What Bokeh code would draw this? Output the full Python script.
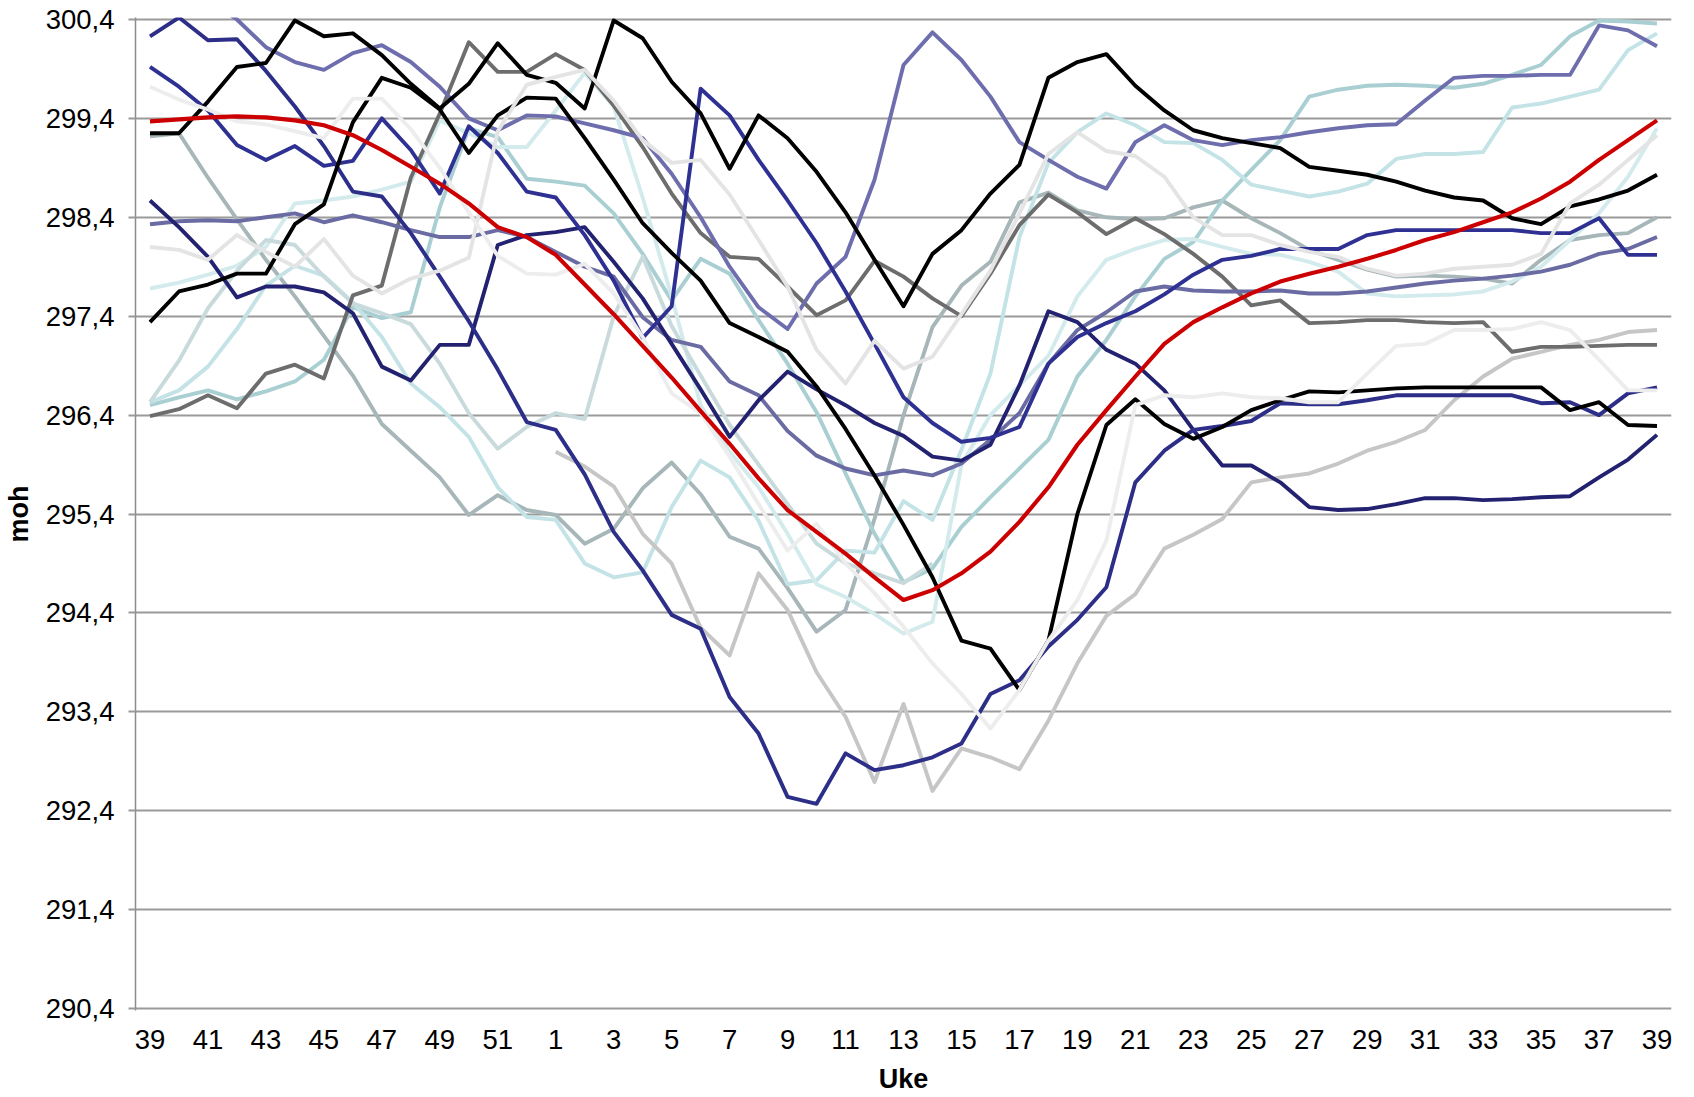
import numpy as np
from bokeh.plotting import figure
from bokeh.models import Range1d, FixedTicker
from bokeh.embed import file_html
from bokeh.resources import INLINE

nan = float("nan")

# x categories (week numbers, Sept -> Sept)
weeks = list(range(39, 53)) + list(range(1, 40))
ytick_values = [290.4, 291.4, 292.4, 293.4, 294.4, 295.4, 296.4, 297.4, 298.4, 299.4, 300.4]
ytick_labels = ["290,4", "291,4", "292,4", "293,4", "294,4", "295,4", "296,4", "297,4", "298,4", "299,4", "300,4"]

red = [299.37, 299.39, 299.41, 299.42, 299.41, 299.38, 299.33, 299.23, 299.08, 298.91, 298.74, 298.54, 298.3, 298.2,
       298.02, 297.72, 297.42, 297.1, 296.78, 296.44, 296.11, 295.76, 295.44, 295.22, 295.0, 294.76, 294.53, 294.63,
       294.8, 295.02, 295.32, 295.67, 296.1, 296.45, 296.79, 297.12, 297.34, 297.49, 297.63, 297.75, 297.83, 297.9,
       297.98, 298.07, 298.17, 298.25, 298.35, 298.45, 298.59, 298.76, 298.98, 299.18, 299.38]
black_a = [299.25, 299.25, 299.57, 299.92, 299.96, 300.39, 300.23, 300.26, 300.04, 299.75, 299.5, 299.75, 300.16, 299.84,
           299.76, 299.5, 300.39, 300.21, 299.77, 299.45, 298.89, 299.43, 299.2, 298.86, 298.45, 297.97, 297.5, 298.03,
           298.27, 298.64, 298.93, 299.81, 299.97, 300.05, 299.73, 299.48, 299.28, 299.2, 299.15, 299.1, 298.91, 298.87,
           298.83, 298.76, 298.67, 298.6, 298.57, 298.39, 298.33, 298.51, 298.58, 298.67, 298.83]
black_b = [297.34, 297.65, 297.72, 297.83, 297.83, 298.33, 298.53, 299.36, 299.81, 299.71, 299.49, 299.05, 299.43, 299.61,
           299.6, 299.2, 298.78, 298.34, 298.04, 297.76, 297.33, 297.19, 297.04, 296.69, 296.26, 295.79, 295.29, 294.76,
           294.12, 294.04, 293.62, 294.12, 295.4, 296.3, 296.56, 296.31, 296.16, 296.28, 296.45, 296.55, 296.64, 296.63,
           296.65, 296.67, 296.68, 296.68, 296.68, 296.68, 296.68, 296.45, 296.53, 296.3, 296.29]
dark_gray = [296.39, 296.46, 296.6, 296.47, 296.82, 296.91, 296.77, 297.61, 297.71, 298.8, 299.45, 300.17, 299.87, 299.87,
             300.05, 299.89, 299.53, 299.11, 298.64, 298.24, 298.0, 297.98, 297.7, 297.41, 297.56, 297.96, 297.8, 297.58,
             297.4, 297.83, 298.32, 298.63, 298.45, 298.23, 298.39, 298.23, 298.03, 297.8, 297.51, 297.56, 297.33, 297.34,
             297.36, 297.36, 297.34, 297.33, 297.34, 297.04, 297.09, 297.09, 297.1, 297.11, 297.11]
navy_a = [300.23, 300.42, 300.19, 300.2, 299.88, 299.52, 299.12, 298.66, 298.61, 298.24, 297.8, 297.35, 296.86, 296.33,
          296.25, 295.8, 295.22, 294.83, 294.38, 294.24, 293.55, 293.18, 292.54, 292.47, 292.98, 292.81, 292.86, 292.94,
          293.08, 293.58, 293.72, 294.06, 294.33, 294.66, 295.72, 296.04, 296.25, 296.29, 296.34, 296.52, 296.51, 296.51,
          296.55, 296.6, 296.6, 296.6, 296.6, 296.6, 296.52, 296.53, 296.4, 296.62, 296.68]
navy_b = [299.92, 299.72, 299.48, 299.13, 298.98, 299.12, 298.92, 298.97, 299.4, 299.08, 298.64, 299.32, 299.05, 298.66,
          298.6, 298.22, 297.76, 297.18, 297.5, 299.7, 299.43, 298.98, 298.57, 298.14, 297.65, 297.12, 296.58, 296.32,
          296.13, 296.17, 296.28, 296.92, 297.19, 297.33, 297.45, 297.62, 297.82, 297.97, 298.01, 298.08, 298.08, 298.08,
          298.22, 298.27, 298.27, 298.27, 298.27, 298.27, 298.24, 298.24, 298.39, 298.02, 298.02]
navy_c = [298.57, 298.3, 298.0, 297.59, 297.7, 297.7, 297.64, 297.43, 296.89, 296.75, 297.11, 297.11, 298.12, 298.22,
          298.25, 298.3, 297.95, 297.58, 297.12, 296.66, 296.18, 296.55, 296.84, 296.66, 296.5, 296.32, 296.19, 295.98,
          295.94, 296.1, 296.7, 297.45, 297.34, 297.06, 296.92, 296.65, 296.25, 295.89, 295.89, 295.72, 295.47, 295.44,
          295.45, 295.5, 295.56, 295.56, 295.54, 295.55, 295.57, 295.58, 295.77, 295.95, 296.2]
slate_a = [298.33, 298.36, 298.37, 298.36, 298.4, 298.44, 298.35, 298.42, 298.35, 298.27, 298.2, 298.2, 298.27, 298.2,
           298.05, 297.9, 297.8, 297.39, 297.16, 297.09, 296.74, 296.6, 296.24, 295.99, 295.86, 295.79, 295.84, 295.79,
           295.91, 296.15, 296.42, 296.92, 297.26, 297.44, 297.65, 297.7, 297.66, 297.65, 297.65, 297.66, 297.63, 297.63,
           297.65, 297.69, 297.73, 297.76, 297.78, 297.81, 297.85, 297.92, 298.03, 298.08, 298.2]
slate_b = [300.9, 300.75, 300.6, 300.4, 300.12, 299.97, 299.89, 300.06, 300.14, 299.97, 299.72, 299.4, 299.28, 299.43,
           299.42, 299.35, 299.28, 299.2, 298.84, 298.4, 297.9, 297.49, 297.27, 297.73, 298.0, 298.78, 299.94, 300.27,
           299.99, 299.62, 299.16, 298.98, 298.81, 298.69, 299.16, 299.33, 299.18, 299.13, 299.18, 299.21, 299.26, 299.3,
           299.33, 299.34, 299.58, 299.81, 299.83, 299.83, 299.84, 299.84, 300.34, 300.29, 300.13]
gray_teal = [299.22, 299.25, 298.8, 298.38, 297.97, 297.6, 297.2, 296.8, 296.31, 296.04, 295.77, 295.39, 295.59, 295.44,
             295.39, 295.1, 295.25, 295.66, 295.92, 295.6, 295.17, 295.05, 294.65, 294.21, 294.43, 295.35, 296.4, 297.29,
             297.71, 297.95, 298.55, 298.65, 298.47, 298.4, 298.38, 298.39, 298.5, 298.57, 298.39, 298.24, 298.07, 297.97,
             297.87, 297.8, 297.81, 297.8, 297.78, 297.73, 297.97, 298.17, 298.22, 298.24, 298.4]
teal = [296.5, 296.58, 296.65, 296.56, 296.64, 296.74, 296.96, 297.49, 297.38, 297.44, 298.5, 299.3, 299.21, 298.79,
        298.76, 298.72, 298.44, 298.03, 297.56, 297.98, 297.83, 297.36, 296.92, 296.43, 295.81, 295.2, 294.71, 294.85,
        295.27, 295.57, 295.86, 296.15, 296.79, 297.16, 297.6, 297.98, 298.15, 298.57, 298.88, 299.18, 299.62, 299.69,
        299.73, 299.74, 299.73, 299.71, 299.75, 299.84, 299.94, 300.23, 300.39, 300.38, 300.36]
light_cyan = [296.53, 296.65, 296.89, 297.27, 297.71, 297.91, 297.81, 297.54, 297.19, 296.72, 296.48, 296.18, 295.67, 295.37,
              295.34, 294.9, 294.76, 294.81, 295.47, 295.94, 295.77, 295.33, 294.69, 294.73, 295.03, 295.01, 295.53, 295.34,
              296.05, 296.82, 298.2, 298.95, 299.26, 299.45, 299.33, 299.16, 299.15, 298.98, 298.73, 298.67, 298.61, 298.66,
              298.74, 298.99, 299.04, 299.04, 299.06, 299.51, 299.55, 299.62, 299.69, 300.09, 300.26]
pale_cyan = [297.68, 297.74, 297.82, 297.91, 298.1, 298.54, 298.57, 298.61, 298.68, 298.76, 299.38, 299.25, 299.11, 299.11,
             299.48, 299.86, 299.52, 298.6, 297.6, 296.5, 296.03, 295.67, 295.2, 294.69, 294.56, 294.39, 294.19, 294.31,
             295.9, 296.4, 296.7, 297.0, 297.6, 297.97, 298.08, 298.17, 298.18, 298.1, 298.03, 298.02, 297.95, 297.85,
             297.63, 297.6, 297.61, 297.62, 297.65, 297.75, 297.9, 298.17, 298.44, 298.81, 299.3]
blue_gray = [296.53, 296.95, 297.48, 297.86, 298.17, 298.12, 297.8, 297.53, 297.43, 297.32, 296.92, 296.42, 296.06, 296.28,
             296.42, 296.36, 297.4, 298.0, 297.3, 296.8, 296.3, 295.9, 295.5, 295.1, 294.9, 294.8, 294.7, 294.9,
             nan, nan, nan, nan, nan, nan, nan, nan, nan, nan, nan, nan, nan, nan,
             nan, nan, nan, nan, nan, nan, nan, nan, nan, nan, nan]
light_gray = [nan] * 14 + [296.03, 295.88, 295.68, 295.2, 294.9, 294.25, 293.97, 294.8, 294.43, 293.8, 293.35, 292.69,
                           293.48, 292.6, 293.03, 292.94, 292.82, 293.31, 293.89, 294.37, 294.59, 295.05, 295.19, 295.35,
                           295.72, 295.77, 295.81, 295.91, 296.04, 296.13, 296.25, 296.55, 296.79, 296.97, 297.04, 297.11,
                           297.16, 297.24, 297.26]
silver = [298.1, 298.07, 297.97, 298.22, 298.05, 297.9, 298.18, 297.81, 297.63, 297.78, 297.86, 297.99, 299.27, 299.74,
          299.82, 299.89, 299.58, 299.18, 298.95, 298.98, 298.63, 298.17, 297.7, 297.06, 296.72, 297.15, 296.87, 296.99,
          297.42, 297.86, 298.44, 299.04, 299.26, 299.07, 299.02, 298.81, 298.4, 298.22, 298.22, 298.12, 298.05, 298.0,
          297.88, 297.81, 297.83, 297.88, 297.9, 297.92, 298.03, 298.54, 298.73, 298.98, 299.23]
whitish = [299.72, 299.59, 299.49, 299.37, 299.34, 299.27, 299.2, 299.6, 299.6, 299.29, 298.9, 298.45, 298.01, 297.83,
           297.82, 297.93, 297.63, 297.19, 296.62, 296.42, 295.98, 295.5, 295.03, 295.3, 294.9, 294.6, 294.26, 293.89,
           293.58, 293.23, 293.62, 294.12, 294.53, 295.13, 296.5, 296.6, 296.58, 296.62, 296.58, 296.57, 296.53, 296.53,
           296.82, 297.1, 297.12, 297.26, 297.26, 297.27, 297.34, 297.26, 296.96, 296.65, 296.65]

series = [
    (gray_teal, "#A7B6B8"),
    (teal, "#A9CFD2"),
    (light_cyan, "#C3E3E6"),
    (pale_cyan, "#D3EBEC"),
    (blue_gray, "#C8DADB"),
    (light_gray, "#C6C6C6"),
    (dark_gray, "#6D6D6D"),
    (slate_a, "#6B6BA3"),
    (slate_b, "#6E6EAE"),
    (navy_c, "#222270"),
    (navy_a, "#2C2E88"),
    (navy_b, "#2E3192"),
    (black_b, "#000000"),
    (black_a, "#000000"),
    (silver, "#E4E4E4"),
    (whitish, "#EDEDED"),
    (red, "#CC0000"),
]

xs = list(range(len(weeks)))

p = figure(width=1694, height=1097, output_backend="svg", toolbar_location=None,
           x_range=Range1d(-0.5, 52.5), y_range=Range1d(290.38, 300.42),
           min_border_left=134, min_border_right=23, min_border_top=17, min_border_bottom=87)
p.outline_line_color = None
p.background_fill_color = "white"

for vals, col in series:
    lw = 4.1 if col == "#CC0000" else 3.9
    p.line(xs, vals, line_color=col, line_width=lw, line_join="round")

font = "Liberation Sans"
# y axis
p.yaxis.ticker = FixedTicker(ticks=ytick_values)
p.yaxis.major_label_overrides = {v: s for v, s in zip(ytick_values, ytick_labels)}
p.yaxis.axis_line_color = "#8C8C8C"
p.yaxis.axis_line_width = 1.5
p.yaxis.major_tick_line_color = "#9A9A9A"
p.yaxis.major_tick_line_width = 2
p.yaxis.major_tick_out = 7
p.yaxis.major_tick_in = 0
p.yaxis.minor_tick_line_color = None
p.yaxis.major_label_text_font = font
p.yaxis.major_label_text_font_size = "27.5px"
p.yaxis.major_label_text_color = "#000000"
p.yaxis.major_label_standoff = 14
p.yaxis.axis_label = "moh"
p.yaxis.axis_label_text_font = font
p.yaxis.axis_label_text_font_style = "bold"
p.yaxis.axis_label_text_font_size = "27px"
p.yaxis.axis_label_text_color = "#000000"
p.yaxis.axis_label_standoff = 9

# x axis
p.xaxis.ticker = FixedTicker(ticks=xs[::2])
p.xaxis.major_label_overrides = {i: str(weeks[i]) for i in xs[::2]}
p.xaxis.axis_line_color = None
p.xaxis.major_tick_line_color = None
p.xaxis.minor_tick_line_color = None
p.xaxis.major_label_text_font = font
p.xaxis.major_label_text_font_size = "27.5px"
p.xaxis.major_label_text_color = "#000000"
p.xaxis.major_label_standoff = 13
p.xaxis.axis_label = "Uke"
p.xaxis.axis_label_text_font = font
p.xaxis.axis_label_text_font_style = "bold"
p.xaxis.axis_label_text_font_size = "27px"
p.xaxis.axis_label_text_color = "#000000"
p.xaxis.axis_label_standoff = 12

p.xgrid.grid_line_color = None
p.ygrid.ticker = FixedTicker(ticks=ytick_values)
p.ygrid.grid_line_color = "#9A9A9A"
p.ygrid.grid_line_width = 2

open("out.html", "w").write(file_html(p, INLINE))
